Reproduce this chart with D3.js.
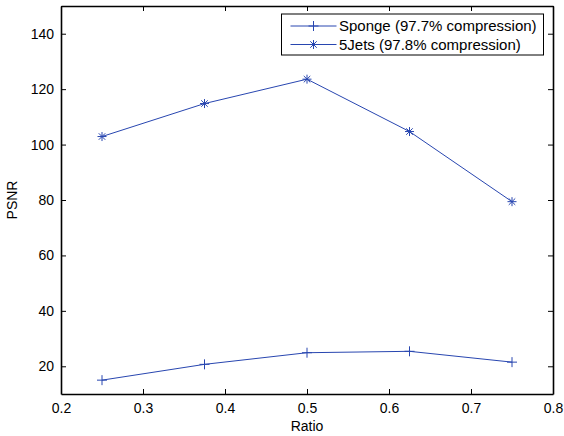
<!DOCTYPE html>
<html>
<head>
<meta charset="utf-8">
<script src="https://cdn.jsdelivr.net/npm/d3@7"></script>
<style>
  body { margin: 0; background: #fff; }
  svg { font-family: "Liberation Sans", Arial, sans-serif; }
  .axis path, .axis line { stroke: #000; }
  .axis text { font-size: 14px; fill: #000; }
</style>
</head>
<body>
<script>
var ratios = [0.25, 0.375, 0.5, 0.625, 0.75];
var sponge = [15, 20.7, 24.9, 25.4, 21.5];
var jets = [102.9, 114.8, 123.6, 104.7, 79.4];
var seriesNames = ["Sponge (97.7% compression)", "5Jets (97.8% compression)"];
var xTicks = [0.2, 0.3, 0.4, 0.5, 0.6, 0.7, 0.8];
var yTicks = [20, 40, 60, 80, 100, 120, 140];

var margin = {top: 6, right: 11, bottom: 42, left: 61},
    width = 564 - margin.left - margin.right,
    height = 436 - margin.top - margin.bottom;

var svg = d3.select("body").append("svg")
    .attr("width", 564)
    .attr("height", 436)
  .append("g")
    .attr("transform", "translate(" + margin.left + "," + margin.top + ")");

var x = d3.scaleLinear().domain([0.2, 0.8]).range([0, width]);
var y = d3.scaleLinear().domain([10, 150]).range([height, 0]);

var color = "#2846b0";

svg.append("rect")
    .attr("width", width).attr("height", height)
    .attr("fill", "#fff");

// bottom + left axes with inward ticks
svg.append("g").attr("class", "axis")
    .attr("transform", "translate(0," + height + ")")
    .call(d3.axisBottom(x).tickValues(xTicks).tickFormat(d3.format("")).tickSizeInner(-5).tickSizeOuter(0).tickPadding(9));
svg.append("g").attr("class", "axis")
    .call(d3.axisLeft(y).tickValues(yTicks).tickSizeInner(-5).tickSizeOuter(0).tickPadding(7));
// mirrored top + right
svg.append("g").attr("class", "axis")
    .call(d3.axisTop(x).tickValues(xTicks).tickSizeInner(-5).tickSizeOuter(0).tickFormat(""));
svg.append("g").attr("class", "axis")
    .attr("transform", "translate(" + width + ",0)")
    .call(d3.axisRight(y).tickValues(yTicks).tickSizeInner(-5).tickSizeOuter(0).tickFormat(""));

svg.selectAll(".axis path").attr("stroke-width", 1.6);

svg.append("text")
    .attr("x", width / 2).attr("y", height + 37)
    .attr("text-anchor", "middle").attr("font-size", 14)
    .text("Ratio");
svg.append("text")
    .attr("transform", "translate(-44," + (height / 2) + ") rotate(-90)")
    .attr("text-anchor", "middle").attr("font-size", 14)
    .text("PSNR");

var line = d3.line()
    .x(function(d, i){ return x(ratios[i]); })
    .y(function(d){ return y(d); });

function plus(g, cx, cy) {
  g.append("path")
    .attr("d", "M" + (cx - 5) + "," + cy + "H" + (cx + 5) + "M" + cx + "," + (cy - 5) + "V" + (cy + 5))
    .attr("stroke", color).attr("fill", "none");
}
function star(g, cx, cy) {
  var r = 4.5, d = r * 0.72;
  g.append("path")
    .attr("d", "M" + (cx - r) + "," + cy + "H" + (cx + r) +
               "M" + cx + "," + (cy - r) + "V" + (cy + r) +
               "M" + (cx - d) + "," + (cy - d) + "L" + (cx + d) + "," + (cy + d) +
               "M" + (cx - d) + "," + (cy + d) + "L" + (cx + d) + "," + (cy - d))
    .attr("stroke", color).attr("fill", "none");
}

[sponge, jets].forEach(function(vals, k){
  svg.append("path").datum(vals)
    .attr("d", line)
    .attr("fill", "none")
    .attr("stroke", color)
    .attr("stroke-width", 1);
  var g = svg.append("g");
  vals.forEach(function(v, i){
    (k === 0 ? plus : star)(g, x(ratios[i]), y(v));
  });
});

// legend
var leg = svg.append("g").attr("transform", "translate(" + (281.5 - margin.left) + "," + (14 - margin.top) + ")");
leg.append("rect")
    .attr("width", 262).attr("height", 41)
    .attr("fill", "#fff").attr("stroke", "#000").attr("stroke-width", 1);
seriesNames.forEach(function(name, k){
  var ly = 12 + k * 18.5;
  leg.append("line")
    .attr("x1", 9).attr("x2", 55).attr("y1", ly).attr("y2", ly)
    .attr("stroke", color);
  (k === 0 ? plus : star)(leg, 32, ly);
  leg.append("text")
    .attr("x", 57.5).attr("y", ly + 5)
    .attr("font-size", 15)
    .text(name);
});
</script>
</body>
</html>
